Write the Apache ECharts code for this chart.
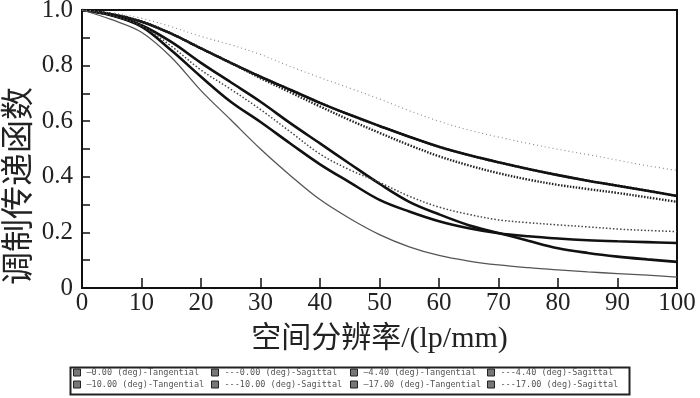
<!DOCTYPE html>
<html>
<head>
<meta charset="utf-8">
<script src="https://cdn.jsdelivr.net/npm/echarts@6/dist/echarts.min.js"></script>
<style>html,body{margin:0;padding:0;background:#fff;}#c{width:700px;height:398px;}</style>
</head>
<body>
<div id="c"></div>
<script>
var freq = [0,5,10,15,20,25,30,35,40,45,50,55,60,65,70,75,80,85,90,95,100];
var t000 = [1,0.985,0.958,0.915,0.862,0.81,0.76,0.713,0.666,0.623,0.583,0.544,0.508,0.478,0.452,0.428,0.406,0.386,0.368,0.35,0.331];
var s440 = [1,0.985,0.958,0.915,0.862,0.81,0.755,0.704,0.653,0.604,0.558,0.514,0.474,0.441,0.413,0.39,0.371,0.356,0.342,0.326,0.31];
var t440 = [1,0.982,0.945,0.885,0.81,0.74,0.67,0.593,0.52,0.447,0.375,0.31,0.265,0.226,0.198,0.17,0.143,0.126,0.113,0.103,0.094];
var s1000 = [1,0.98,0.943,0.87,0.784,0.715,0.642,0.562,0.482,0.425,0.38,0.33,0.291,0.265,0.245,0.235,0.227,0.22,0.212,0.207,0.203];
var t1000 = [1,0.98,0.94,0.855,0.76,0.67,0.597,0.52,0.445,0.38,0.317,0.275,0.24,0.215,0.197,0.186,0.178,0.172,0.168,0.165,0.162];
var t1700 = [1,0.965,0.92,0.83,0.71,0.605,0.50,0.405,0.318,0.25,0.192,0.148,0.117,0.097,0.083,0.073,0.065,0.058,0.052,0.046,0.039];
var s1700 = [1,0.99,0.97,0.94,0.905,0.875,0.84,0.797,0.757,0.719,0.68,0.638,0.60,0.568,0.543,0.52,0.499,0.48,0.46,0.44,0.423];
var names = ['0.00 (deg)-Tangential','0.00 (deg)-Sagittal','4.40 (deg)-Tangential','4.40 (deg)-Sagittal',
             '10.00 (deg)-Tangential','10.00 (deg)-Sagittal','17.00 (deg)-Tangential','17.00 (deg)-Sagittal'];
var yTicks = [0,0.2,0.4,0.6,0.8,1.0];

function pairs(arr){ return freq.map(function(f,i){ return [f, arr[i]]; }); }

var chart = echarts.init(document.getElementById('c'));
var styles = [
  {d:t000, w:2.6, c:'#111', t:'solid'},
  {d:t000, w:2.4, c:'#111', t:[1.5,1.5]},
  {d:t440, w:2.6, c:'#111', t:'solid'},
  {d:s440, w:2.4, c:'#222', t:[1.5,1.5]},
  {d:t1000, w:2.6, c:'#111', t:'solid'},
  {d:s1000, w:1.5, c:'#444', t:[1.5,2]},
  {d:t1700, w:1.3, c:'#555', t:'solid'},
  {d:s1700, w:1.1, c:'#888', t:[1,3]}
];
var series = names.map(function(n,i){
  var s = styles[i];
  return {name:n, type:'line', data:pairs(s.d), smooth:0.35, showSymbol:false, symbol:'none',
    lineStyle:{width:s.w, color:s.c, type:s.t}, itemStyle:{color:s.c}, z: (i===1?1:2), animation:false};
});
var colX = [73, 211, 350, 487], rowY = [368, 380];
var legends = names.map(function(n,i){
  return {data:[n], left:colX[i%4], top:rowY[Math.floor(i/4)], padding:0, itemGap:2,
    itemWidth:7, itemHeight:7, icon:'rect', selectedMode:false,
    itemStyle:{color:'#777', borderColor:'#222', borderWidth:1},
    formatter:function(name){ return (name.indexOf('Tangential')>=0 ? '\u2014' : '---') + name; },
    textStyle:{fontFamily:'DejaVu Sans Mono', fontSize:8.5, color:'#555', padding:[0,0,0,1]}};
});
chart.setOption({
  animation:false,
  backgroundColor:'#fff',
  grid:{left:82, right:23, top:10, bottom:110, show:true, borderColor:'#111', borderWidth:2,
        containLabel:false, outerBoundsMode:'none'},
  legend: legends,
  graphic:[
    {type:'rect', left:68, top:365, shape:{width:559, height:27}, style:{fill:'none', stroke:'#222', lineWidth:2}, silent:true},
    {type:'text', x:16, y:186, rotation:Math.PI/2, silent:true,
     style:{text:'调制传递函数', font:'33px "Noto Sans CJK SC"', fill:'#222', textAlign:'center', textVerticalAlign:'middle'}}
  ],
  xAxis:{type:'value', min:0, max:100, interval:10,
    name:'空间分辨率/(lp/mm)', nameLocation:'middle', nameGap:36,
    nameTextStyle:{fontFamily:'Liberation Serif, Noto Sans CJK SC', fontSize:30, color:'#222'},
    axisLine:{lineStyle:{color:'#111', width:2}},
    axisTick:{inside:true, length:10, lineStyle:{color:'#111', width:1.5}},
    axisLabel:{fontFamily:'Liberation Serif', fontSize:25, color:'#222', margin:3},
    splitLine:{show:false}},
  yAxis:{type:'value', min:0, max:1, interval:0.1,
    axisLine:{lineStyle:{color:'#111', width:2}},
    axisTick:{inside:true, length:8, lineStyle:{color:'#111', width:1.5}},
    axisLabel:{fontFamily:'Liberation Serif', fontSize:25, color:'#222', margin:9,
      formatter:function(v){
        var r = Math.round(v*10)/10;
        for (var k=0;k<yTicks.length;k++){ if (Math.abs(yTicks[k]-r)<1e-6) return r===0?'0':r.toFixed(1); }
        return '';
      }},
    splitLine:{show:false}},
  series: series
});
</script>
</body>
</html>
